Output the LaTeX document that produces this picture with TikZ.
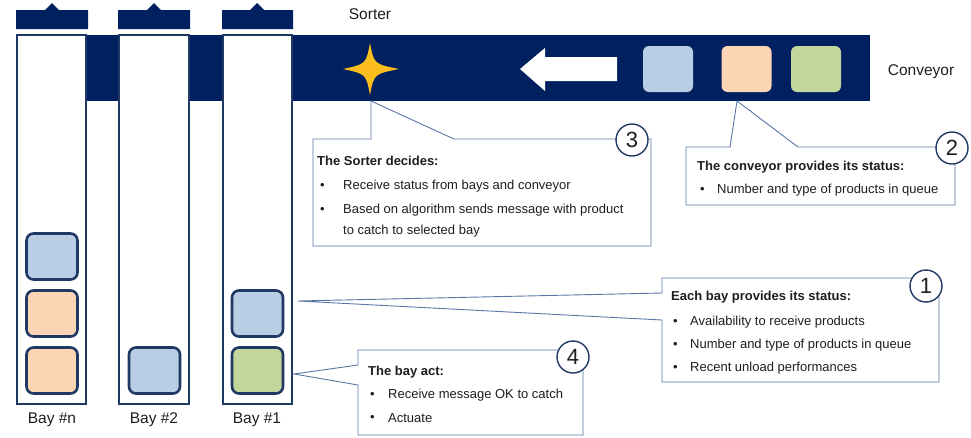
\documentclass[tikz,border=0pt]{standalone}
\usepackage{fontspec}
\setmainfont{Liberation Sans}
\definecolor{navy}{RGB}{0,32,96}
\definecolor{boxedge}{RGB}{31,56,100}
\definecolor{pblue}{RGB}{185,205,229}
\definecolor{ppeach}{RGB}{252,213,181}
\definecolor{pgreen}{RGB}{195,214,155}
\definecolor{calloutline}{RGB}{90,118,165}
\definecolor{stargold}{RGB}{252,190,30}
\definecolor{txt}{RGB}{30,30,30}
\tikzset{
  bay/.style={draw=boxedge, line width=1.8pt, fill=white},
  item/.style={draw=boxedge, line width=2.6pt, rounded corners=7pt, minimum width=51pt, minimum height=46pt, inner sep=0pt},
  qitem/.style={rounded corners=6pt, minimum width=50pt, minimum height=46pt, inner sep=0pt},
  callout/.style={draw=calloutline, line width=0.9pt, fill=white, line join=miter},
  badge/.style={circle, draw=boxedge, line width=1.4pt, fill=white, minimum size=32pt, inner sep=0pt, text=txt, font=\fontsize{22}{22}\selectfont},
  ctext/.style={anchor=west, inner sep=0pt, text=txt, font=\fontsize{13}{15}\selectfont},
  ctitle/.style={anchor=west, inner sep=0pt, text=txt, font=\fontsize{13}{15}\selectfont\bfseries},
  tag/.style={inner sep=0pt, text=txt, font=\fontsize{15.5}{17}\selectfont},
}
\begin{document}
\begin{tikzpicture}[x=1pt, y=-1pt]
\useasboundingbox (0,0) rectangle (971,437);

% conveyor band
\fill[navy] (16,35) rectangle (870,101);

% bays
\draw[bay] (17,35) rectangle (86,404);
\draw[bay] (119,35) rectangle (189,404);
\draw[bay] (223,35) rectangle (292,404);

% bay caps
\foreach \l/\c/\r in {16/52/88, 118/154/190, 222/257/293}{
  \fill[navy] (\l,10) -- (\c-7,10) -- (\c,3) -- (\c+7,10) -- (\r,10) -- (\r,29) -- (\l,29) -- cycle;
}

% products waiting in the bays
\node[item, fill=pblue]  (n1) at (52,256.5) {};
\node[item, fill=ppeach] (n2) at (52,313.5) {};
\node[item, fill=ppeach] (n3) at (52,370.5) {};
\node[item, fill=pblue]  (b2) at (154.5,370.5) {};
\node[item, fill=pblue]  (a1) at (257.5,313.5) {};
\node[item, fill=pgreen] (a2) at (257.5,370.5) {};

% products on the conveyor
\node[qitem, fill=pblue]  (q1) at (668,69) {};
\node[qitem, fill=ppeach] (q2) at (746.5,69) {};
\node[qitem, fill=pgreen] (q3) at (816,69) {};

% direction arrow
\fill[white] (520,69) -- (545,48) -- (545,57) -- (617,57) -- (617,81) -- (545,81) -- (545,91) -- cycle;

% sorter star
\fill[stargold] (370,43) .. controls (374,64) .. (399,69)
  .. controls (374,74) .. (370,95)
  .. controls (366,74) .. (343,69)
  .. controls (366,64) .. (370,43) -- cycle;

% labels
\node[tag] (sorter) at (370,14) {Sorter};
\node[tag] (conv) at (921,72) {Conveyor};
\node[tag] (lbn) at (52,420) {Bay \#n};
\node[tag] (lb2) at (154,420) {Bay \#2};
\node[tag] (lb1) at (257,420) {Bay \#1};

% callout tips
\coordinate (tip3) at (371,101);
\coordinate (tip2) at (737,101);
\coordinate (tip1) at (298,301);
\coordinate (tip4) at (294,374);

% callout 3: the sorter
\draw[callout] (313,139) -- (371,139) -- (tip3) -- (454,139) -- (651,139) -- (651,246) -- (313,246) -- cycle;
% callout 2: the conveyor
\draw[callout] (686,147) -- (730,147) -- (tip2) -- (798,147) -- (955,147) -- (955,205) -- (686,205) -- cycle;
% callout 1: the bays
\draw[callout] (662,278) -- (939,278) -- (939,382) -- (662,382) -- (662,320) -- (tip1) -- (662,293) -- cycle;
% callout 4: the bay acts
\draw[callout] (358,350) -- (583,350) -- (583,435) -- (358,435) -- (358,385) -- (tip4) -- (358,365) -- cycle;

% step badges
\node[badge] (s3) at (632,140) {3};
\node[badge] (s2) at (952,148) {2};
\node[badge] (s1) at (926,286) {1};
\node[badge] (s4) at (573,357) {4};

% callout texts
\node[ctitle] (t3) at (317,161) {The Sorter decides:};
\node[ctext] (t3a) at (320,186) {•};
\node[ctext] (t3b) at (343,186) {Receive status from bays and conveyor};
\node[ctext] (t3c) at (320,210) {•};
\node[ctext] (t3d) at (343,210) {Based on algorithm sends message with product};
\node[ctext] (t3e) at (343,231) {to catch to selected bay};

\node[ctitle] (t2) at (697,167) {The conveyor provides its status:};
\node[ctext] (t2a) at (700,190) {•};
\node[ctext] (t2b) at (717,190) {Number and type of products in queue};

\node[ctitle] (t1) at (671,297) {Each bay provides its status:};
\node[ctext] (t1a) at (673,322) {•};
\node[ctext] (t1b) at (690,322) {Availability  to receive products};
\node[ctext] (t1c) at (673,345) {•};
\node[ctext] (t1d) at (690,345) {Number and type of products in queue};
\node[ctext] (t1e) at (673,368) {•};
\node[ctext] (t1f) at (690,368) {Recent unload performances};

\node[ctitle] (t4) at (368,372) {The bay act:};
\node[ctext] (t4a) at (370,395) {•};
\node[ctext] (t4b) at (388,395) {Receive message OK to catch};
\node[ctext] (t4c) at (370,418) {•};
\node[ctext] (t4d) at (388,418) {Actuate};
\end{tikzpicture}
\end{document}
